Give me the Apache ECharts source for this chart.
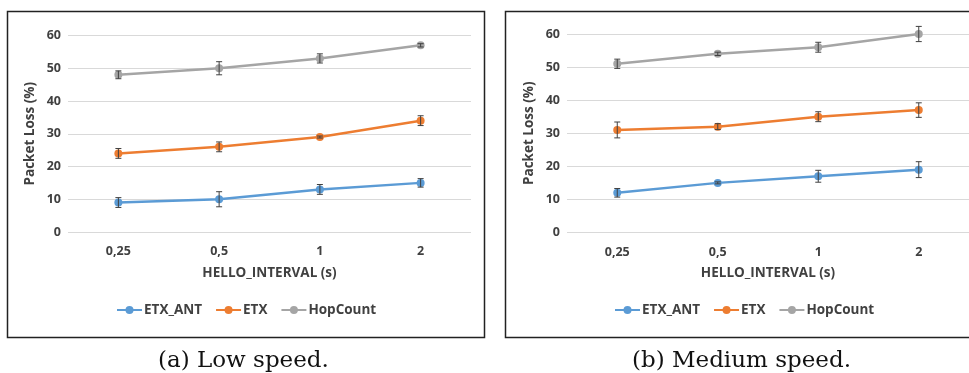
<!DOCTYPE html>
<html>
<head>
<meta charset="utf-8">
<script src="https://cdn.jsdelivr.net/npm/echarts@6/dist/echarts.min.js"></script>
<style>
  html, body { margin: 0; padding: 0; background: #fff; }
  #chart { width: 969px; height: 373px; }
</style>
</head>
<body>
<div id="chart"></div>
<script>
// x categories (HELLO_INTERVAL)
var categories = ['0,25', '0,5', '1', '2']
var seriesNames = ['ETX_ANT', 'ETX', 'HopCount']
var colors = ['#5B9BD5', '#ED7D31', '#A5A5A5']

// (a) low speed
var lowEtxAnt = [9, 10, 13, 15]
var lowEtxAntErr = [1.5, 2.3, 1.5, 1.3]
var lowEtx = [24, 26, 29, 34]
var lowEtxErr = [1.5, 1.5, 0.3, 1.5]
var lowHop = [48, 50, 53, 57]
var lowHopErr = [1.2, 2, 1.4, 0.5]

// (b) medium speed
var medEtxAnt = [12, 15, 17, 19]
var medEtxAntErr = [1.3, 0.3, 1.8, 2.4]
var medEtx = [31, 32, 35, 37]
var medEtxErr = [2.4, 0.9, 1.5, 2.2]
var medHop = [51, 54, 56, 60]
var medHopErr = [1.4, 0.5, 1.5, 2.3]

var yTicks = { min: 0, max: 60, interval: 10 }

var tickFont = { color: '#404040', fontWeight: 'bold', fontSize: 12.5, fontFamily: 'Open Sans' }
var nameFont = { color: '#404040', fontWeight: 'bold', fontSize: 13.5, fontFamily: 'Open Sans' }

function errData (vals, errs) {
  return vals.map(function (v, i) { return [i, v - errs[i], v + errs[i]] })
}

function renderErr (params, api) {
  var x = api.value(0)
  var lo = api.coord([x, api.value(1)])
  var hi = api.coord([x, api.value(2)])
  var cap = 3
  var style = { stroke: '#404040', lineWidth: 1 }
  return {
    type: 'group',
    children: [
      { type: 'line', shape: { x1: hi[0], y1: hi[1], x2: lo[0], y2: lo[1] }, style: style },
      { type: 'line', shape: { x1: hi[0] - cap, y1: hi[1], x2: hi[0] + cap, y2: hi[1] }, style: style },
      { type: 'line', shape: { x1: lo[0] - cap, y1: lo[1], x2: lo[0] + cap, y2: lo[1] }, style: style }
    ]
  }
}

function lineSeries (name, idx, data, colorIdx) {
  return {
    name: name,
    type: 'line',
    xAxisIndex: idx,
    yAxisIndex: idx,
    data: data,
    symbol: 'circle',
    symbolSize: 8,
    color: colors[colorIdx],
    lineStyle: { width: 2.5 },
    animation: false,
    z: 3
  }
}

function errSeries (idx, vals, errs) {
  return {
    type: 'custom',
    name: 'err',
    xAxisIndex: idx,
    yAxisIndex: idx,
    data: errData(vals, errs),
    renderItem: renderErr,
    clip: false,
    silent: true,
    animation: false,
    z: 5
  }
}

function xAxisOf (idx) {
  return {
    gridIndex: idx,
    type: 'category',
    data: categories,
    name: 'HELLO_INTERVAL (s)',
    nameLocation: 'middle',
    nameGap: 34,
    nameTextStyle: nameFont,
    axisLine: { show: false },
    axisTick: { show: false },
    axisLabel: Object.assign({ margin: 13 }, tickFont)
  }
}

function yAxisOf (idx) {
  return {
    gridIndex: idx,
    type: 'value',
    min: yTicks.min,
    max: yTicks.max,
    interval: yTicks.interval,
    name: 'Packet Loss (%)',
    nameLocation: 'middle',
    nameGap: 31,
    nameTextStyle: nameFont,
    axisLine: { show: false },
    axisTick: { show: false },
    axisLabel: Object.assign({ margin: 7 }, tickFont),
    splitLine: { lineStyle: { color: '#D9D9D9', width: 1 } }
  }
}

function legendOf (left) {
  return {
    data: seriesNames,
    left: left,
    top: 303,
    padding: 0,
    itemWidth: 25,
    itemHeight: 10,
    itemGap: 13,
    textStyle: Object.assign({ padding: [0, 0, 0, -3] }, nameFont)
  }
}

var chart = echarts.init(document.getElementById('chart'))
chart.setOption({
  backgroundColor: '#fff',
  animation: false,
  grid: [
    { left: 68, width: 403, top: 35.5, height: 196.5 },
    { left: 567, width: 402, top: 34, height: 198.5 }
  ],
  xAxis: [xAxisOf(0), xAxisOf(1)],
  yAxis: [yAxisOf(0), yAxisOf(1)],
  legend: [legendOf(116), legendOf(614)],
  graphic: [
    { type: 'rect', shape: { x: 7.5, y: 11.5, width: 477, height: 326 }, style: { fill: 'none', stroke: '#222', lineWidth: 1.5 }, z: 0 },
    { type: 'rect', shape: { x: 505.5, y: 11.5, width: 470, height: 326 }, style: { fill: 'none', stroke: '#222', lineWidth: 1.5 }, z: 0 },
    { type: 'text', left: 158, top: 350, style: { text: '(a) Low speed.', font: '23px "DejaVu Serif"', fill: '#111' } },
    { type: 'text', left: 632, top: 350, style: { text: '(b) Medium speed.', font: '23px "DejaVu Serif"', fill: '#111' } }
  ],
  series: [
    lineSeries('ETX_ANT', 0, lowEtxAnt, 0),
    lineSeries('ETX', 0, lowEtx, 1),
    lineSeries('HopCount', 0, lowHop, 2),
    errSeries(0, lowEtxAnt, lowEtxAntErr),
    errSeries(0, lowEtx, lowEtxErr),
    errSeries(0, lowHop, lowHopErr),
    lineSeries('ETX_ANT', 1, medEtxAnt, 0),
    lineSeries('ETX', 1, medEtx, 1),
    lineSeries('HopCount', 1, medHop, 2),
    errSeries(1, medEtxAnt, medEtxAntErr),
    errSeries(1, medEtx, medEtxErr),
    errSeries(1, medHop, medHopErr)
  ]
})
</script>
</body>
</html>
